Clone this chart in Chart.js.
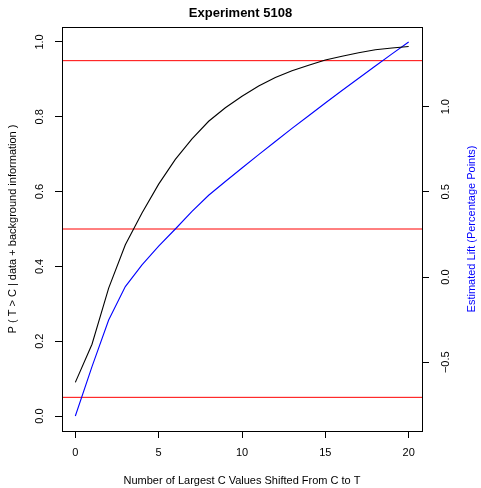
<!DOCTYPE html>
<html>
<head>
<meta charset="utf-8">
<script src="https://cdn.jsdelivr.net/npm/chart.js@4"></script>
<style>
html,body{margin:0;padding:0;background:#fff;}
#wrap{width:481px;height:488px;}
</style>
</head>
<body>
<div id="wrap"><canvas id="c" width="481" height="488"></canvas></div>
<script>
// ---- data ----
const shifted = [0,1,2,3,4,5,6,7,8,9,10,11,12,13,14,15,16,17,18,19,20];
const probTgtC = [0.090,0.192,0.342,0.458,0.543,0.620,0.686,0.741,0.788,0.824,0.855,0.882,0.905,0.923,0.938,0.952,0.962,0.971,0.979,0.984,0.988];
const liftPts = [-0.816,-0.526,-0.252,-0.056,0.071,0.181,0.282,0.385,0.480,0.561,0.640,0.719,0.796,0.873,0.947,1.022,1.095,1.167,1.239,1.310,1.380];
const thresholds = [0.05, 0.5, 0.95];
const xTicks = [0,5,10,15,20];
const yTicks = [0,0.2,0.4,0.6,0.8,1.0];
const yTickLabels = ["0.0","0.2","0.4","0.6","0.8","1.0"];
const y2Ticks = [-0.5,0,0.5,1.0];
const y2TickLabels = ["\u22120.5","0.0","0.5","1.0"];
const titleText = "Experiment 5108";
const xTitle = "Number of Largest C Values Shifted From C to T";
const yTitle = "P ( T > C | data + background information )";
const y2Title = "Estimated Lift (Percentage Points)";

// R-style 4% axis extension
function ext(a,b){const d=(b-a)*0.04;return [a-d,b+d];}
const xr = ext(0,20);
const yr = ext(0,1);
const y2r = ext(Math.min(...liftPts), Math.max(...liftPts));

const FONT = "'Liberation Sans', Arial, sans-serif";

const datasets = [];
thresholds.forEach(t=>{
  datasets.push({data:[{x:xr[0],y:t},{x:xr[1],y:t}], borderColor:'#ff0000', borderWidth:1, pointRadius:0, yAxisID:'y', order:3});
});
datasets.push({data:shifted.map((x,i)=>({x, y:probTgtC[i]})), borderColor:'#000000', borderWidth:1.1, pointRadius:0, yAxisID:'y', tension:0});
datasets.push({data:shifted.map((x,i)=>({x, y:liftPts[i]})), borderColor:'#0000ff', borderWidth:1.1, pointRadius:0, yAxisID:'y2', tension:0});

const boxPlugin = {
  id:'box',
  afterDraw(chart){
    const {ctx, chartArea:a} = chart;
    ctx.save();
    ctx.strokeStyle='#000'; ctx.lineWidth=1;
    ctx.strokeRect(Math.round(a.left)+0.5, Math.round(a.top)+0.5, Math.round(a.right-a.left), Math.round(a.bottom-a.top));
    // right axis title (reads bottom to top)
    ctx.fillStyle='#0000ff';
    ctx.font = "11px "+FONT;
    ctx.translate(472, (a.top+a.bottom)/2);
    ctx.rotate(-Math.PI/2);
    ctx.textAlign='center'; ctx.textBaseline='middle';
    ctx.fillText(y2Title,0,0);
    ctx.restore();
  }
};

function setTicks(vals){ return function(scale){ scale.ticks = vals.map(v=>({value:v})); }; }

new Chart(document.getElementById('c'), {
  type:'line',
  data:{datasets},
  options:{
    responsive:false, animation:false, devicePixelRatio:1,
    layout:{padding:0},
    plugins:{
      legend:{display:false}, tooltip:{enabled:false},
      title:{display:true, text:titleText, color:'#000', font:{family:FONT, size:13, weight:'bold', lineHeight:1.2}, padding:{top:6, bottom:5.4}}
    },
    scales:{
      x:{type:'linear', position:'bottom', min:xr[0], max:xr[1],
         afterBuildTicks:setTicks(xTicks),
         afterFit(s){ s.height = 57; },
         border:{display:false},
         grid:{drawOnChartArea:false, drawTicks:true, tickLength:7, color:'#000', tickColor:'#000', lineWidth:1},
         ticks:{color:'#000', font:{family:FONT, size:11}, padding:8, maxRotation:0, minRotation:0, callback:(v)=>String(v)},
         title:{display:true, text:xTitle, color:'#000', font:{family:FONT, size:11}, padding:{top:0,bottom:0}}
      },
      y:{type:'linear', position:'left', min:yr[0], max:yr[1],
         afterBuildTicks:setTicks(yTicks),
         afterFit(s){ s.width = 62; },
         border:{display:false},
         grid:{drawOnChartArea:false, drawTicks:true, tickLength:7, color:'#000', tickColor:'#000', lineWidth:1},
         ticks:{color:'#000', font:{family:FONT, size:11}, padding:7, minRotation:90, maxRotation:90, crossAlign:'center',
                callback:(v)=>{const i=yTicks.indexOf(v); return i>=0?yTickLabels[i]:'';}},
         title:{display:true, text:yTitle, color:'#000', font:{family:FONT, size:11}, padding:{top:6,bottom:0}}
      },
      y2:{type:'linear', position:'right', min:y2r[0], max:y2r[1],
         afterBuildTicks:setTicks(y2Ticks),
         afterFit(s){ s.width = 59; },
         border:{display:false},
         grid:{drawOnChartArea:false, drawTicks:true, tickLength:7, color:'#000', tickColor:'#000', lineWidth:1},
         ticks:{color:'#000', font:{family:FONT, size:11}, padding:6, minRotation:90, maxRotation:90, crossAlign:'center',
                callback:(v)=>{const i=y2Ticks.indexOf(v); return i>=0?y2TickLabels[i]:'';}}
      }
    }
  },
  plugins:[boxPlugin]
});
</script>
</body>
</html>
